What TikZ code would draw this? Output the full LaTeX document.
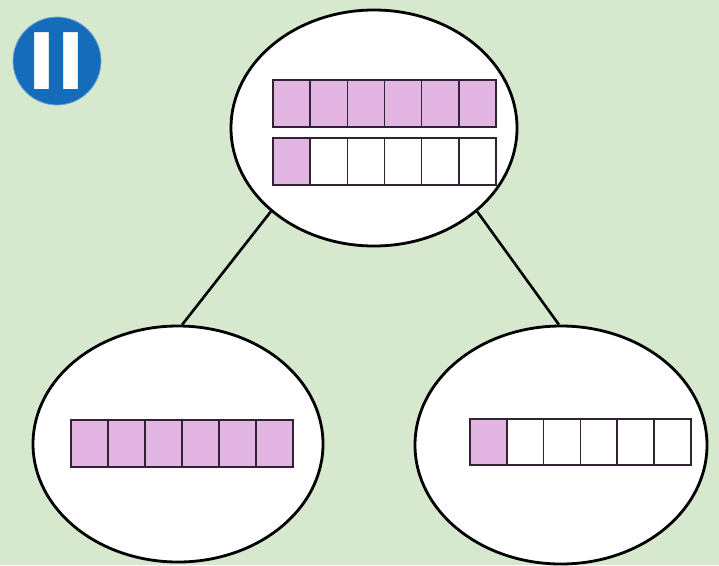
\documentclass[tikz,border=0pt]{standalone}
\usepackage{fontspec}
\newfontfamily\badgefont{DejaVu Sans}
\usetikzlibrary{shapes.geometric}
\definecolor{bg}{RGB}{214,232,206}
\definecolor{pinkcell}{RGB}{226,181,226}
\definecolor{badgeblue}{RGB}{20,108,186}
\definecolor{cellline}{RGB}{50,35,50}
\begin{document}
\begin{tikzpicture}[x=1pt,y=-1pt,
  bubble/.style={ellipse, draw=black, line width=2.8pt, fill=white, inner sep=0pt},
  link/.style={line width=2.6pt, draw=black},
  cell/.style={draw=cellline, line width=1.6pt},
  pinkbox/.style={cell, fill=pinkcell},
  whitebox/.style={cell, fill=white}]
\fill[bg] (0,0) rectangle (719,565);
\useasboundingbox (0,0) rectangle (719,565);
% bubbles
\node[bubble, minimum width=286pt, minimum height=236pt] (top) at (374,128) {};
\node[bubble, minimum width=290pt, minimum height=236pt] (left) at (178,444) {};
\node[bubble, minimum width=292pt, minimum height=238pt] (right) at (561,445) {};
% connectors
\draw[link] (top.219) -- (left.88);
\draw[link] (top.321) -- (right.91);
% top bubble bars
\foreach \i in {0,...,5}
  \draw[pinkbox] ({273+\i*37.17},80) rectangle ++(37.17,47);
\draw[pinkbox] (273,138) rectangle ++(37.17,47);
\foreach \i in {1,...,5}
  \draw[whitebox] ({273+\i*37.17},138) rectangle ++(37.17,47);
% left bubble bar
\foreach \i in {0,...,5}
  \draw[pinkbox] ({71+\i*37},420) rectangle ++(37,47);
% right bubble bar
\draw[pinkbox] (470,419) rectangle ++(36.8,46);
\foreach \i in {1,...,5}
  \draw[whitebox] ({470+\i*36.8},419) rectangle ++(36.8,46);
% badge
\node[circle, fill=badgeblue, draw=badgeblue!60!white, line width=0.8pt, minimum size=88pt, inner sep=0pt] (badge) at (57,61) {};
\node[text=white, inner sep=0pt, font=\badgefont\bfseries\fontsize{78}{78}\selectfont] (badgetext) at (badge.center) {II};
\end{tikzpicture}
\end{document}
